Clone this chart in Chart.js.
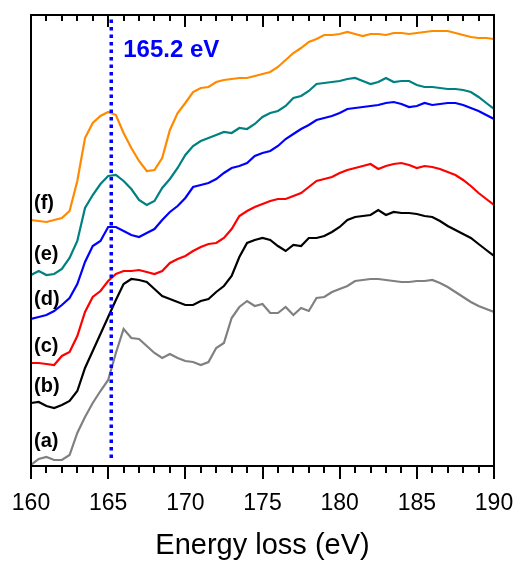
<!DOCTYPE html>
<html>
<head>
<meta charset="utf-8">
<script src="https://cdn.jsdelivr.net/npm/chart.js@4.4.1/dist/chart.umd.min.js"></script>
<style>
  html, body { margin: 0; background: #fff; }
</style>
</head>
<body>
<canvas id="chart" width="518" height="568"></canvas>
<script>
// energy loss grid (eV)
const energy = [160, 160.5, 161, 161.5, 162, 162.5, 163, 163.5, 164, 164.5,
  165, 165.5, 166, 166.5, 167, 167.5, 168, 168.5, 169, 169.5,
  170, 170.5, 171, 171.5, 172, 172.5, 173, 173.5, 174, 174.5,
  175, 175.5, 176, 176.5, 177, 177.5, 178, 178.5, 179, 179.5,
  180, 180.5, 181, 181.5, 182, 182.5, 183, 183.5, 184, 184.5,
  185, 185.5, 186, 186.5, 187, 187.5, 188, 188.5, 189, 189.5, 190]

// stacked spectra, arbitrary intensity units (offset already included)
const specA = [1, 7, 9, 6, 6, 11, 33, 49, 63, 75,
  86, 113, 137, 128, 127, 120, 113, 108, 112, 108,
  105, 104, 101, 104, 118, 123, 148, 159, 165, 160,
  162, 153, 153, 159, 151, 158, 155, 168, 169, 174,
  177, 180, 185, 186, 187, 187, 186, 185, 184, 184,
  185, 185, 186, 183, 179, 174, 169, 164, 160, 157, 154]
const specB = [63, 64, 60, 58, 61, 65, 75, 98, 115, 132,
  149, 166, 182, 187, 186, 184, 177, 170, 167, 164,
  161, 161, 165, 167, 174, 180, 190, 209, 223, 226,
  228, 226, 220, 215, 221, 220, 228, 228, 230, 234,
  239, 246, 249, 250, 251, 256, 251, 254, 253, 253,
  252, 250, 249, 245, 240, 236, 232, 228, 222, 216, 210]
const specC = [103, 103, 102, 101, 110, 114, 130, 154, 169, 175,
  185, 192, 195, 195, 196, 194, 192, 195, 203, 207,
  210, 215, 219, 222, 223, 228, 237, 250, 255, 259,
  262, 265, 267, 267, 270, 273, 279, 285, 287, 289,
  293, 296, 298, 300, 302, 297, 300, 302, 303, 301,
  298, 300, 299, 297, 294, 291, 286, 280, 273, 267, 261]
const specD = [147, 149, 151, 155, 161, 168, 182, 204, 220, 225,
  239, 239, 235, 231, 229, 233, 237, 246, 254, 260,
  268, 279, 281, 283, 287, 293, 298, 300, 303, 310,
  313, 315, 320, 327, 332, 337, 341, 346, 348, 350,
  353, 357, 358, 359, 360, 361, 363, 364, 362, 359,
  360, 363, 361, 362, 363, 363, 361, 358, 355, 351, 347]
const specE = [191, 195, 191, 192, 197, 208, 225, 258, 271, 282,
  290, 291, 285, 277, 266, 261, 265, 278, 287, 298,
  311, 320, 325, 328, 331, 334, 333, 338, 337, 342,
  349, 353, 355, 360, 368, 370, 375, 382, 383, 384,
  385, 387, 388, 385, 382, 384, 388, 384, 385, 385,
  381, 379, 379, 378, 377, 377, 376, 374, 369, 363, 357]
const specF = [246, 245, 244, 246, 248, 255, 285, 328, 343, 350,
  354, 351, 333, 318, 305, 295, 296, 308, 336, 353,
  363, 374, 378, 379, 384, 386, 387, 388, 388, 390,
  392, 394, 399, 406, 413, 418, 424, 427, 431, 431,
  432, 434, 432, 430, 432, 432, 431, 433, 433, 432,
  433, 434, 435, 435, 435, 433, 431, 429, 428, 428, 427]

const curveLabels = ['(a)', '(b)', '(c)', '(d)', '(e)', '(f)']
const labelLevels = [25, 80, 120, 167, 212, 263]
const curveColors = ['#808080', '#000000', '#ff0000', '#0000ff', '#008080', '#ff8a00']
const refEnergy = 165.2
const refText = '165.2 eV'

const series = [specA, specB, specC, specD, specE, specF]
const toPoints = s => s.map((v, i) => ({x: energy[i], y: v}))

Chart.defaults.font.family = "'Liberation Sans', Arial, sans-serif"
Chart.defaults.color = '#000'

const frame = {
  id: 'frame',
  afterDatasetsDraw(chart) {
    const {ctx, chartArea: a, scales: {x, y}} = chart
    ctx.save()
    ctx.strokeStyle = '#000'
    ctx.lineWidth = 2
    ctx.strokeRect(a.left, a.top, a.right - a.left, a.bottom - a.top)
    // major and minor ticks: outward on bottom, inward on top
    for (let v = 160; v <= 190; v++) {
      const px = Math.round(x.getPixelForValue(v))
      const len = v % 5 === 0 ? 13 : 7
      ctx.beginPath()
      ctx.moveTo(px, a.bottom)
      ctx.lineTo(px, a.bottom + len)
      ctx.moveTo(px, a.top)
      ctx.lineTo(px, a.top + len - 1)
      ctx.stroke()
    }
    ctx.fillStyle = '#000'
    ctx.font = "bold 20px 'Liberation Sans', Arial, sans-serif"
    ctx.textBaseline = 'middle'
    ctx.textAlign = 'left'
    curveLabels.forEach((t, i) => {
      ctx.fillText(t, x.getPixelForValue(160) + 3, y.getPixelForValue(labelLevels[i]))
    })
    ctx.fillStyle = '#0000ff'
    ctx.font = "bold 24px 'Liberation Sans', Arial, sans-serif"
    ctx.textBaseline = 'alphabetic'
    ctx.fillText(refText, x.getPixelForValue(refEnergy) + 12, y.getPixelForValue(409))
    ctx.restore()
  }
}

const datasets = [{
  data: [{x: refEnergy, y: 8}, {x: refEnergy, y: 447}],
  borderColor: '#0000ff',
  borderWidth: 3.5,
  borderDash: [3.5, 4]
}].concat(series.map((s, i) => ({
  data: toPoints(s),
  borderColor: curveColors[i],
  borderWidth: 2.2
})))

new Chart(document.getElementById('chart'), {
  type: 'line',
  data: {datasets: datasets},
  plugins: [frame],
  options: {
    responsive: false,
    animation: false,
    events: [],
    layout: {padding: {left: 31, right: 24, top: 15, bottom: 0}},
    elements: {point: {radius: 0}, line: {tension: 0, fill: false}},
    plugins: {legend: {display: false}, tooltip: {enabled: false}},
    scales: {
      x: {
        type: 'linear',
        min: 160,
        max: 190,
        grid: {display: false, drawTicks: false},
        border: {display: false},
        ticks: {stepSize: 5, font: {size: 23}, color: '#000', padding: 24, maxRotation: 0},
        title: {display: true, text: 'Energy loss (eV)', font: {size: 29}, color: '#000',
          padding: {top: 0, bottom: 5}},
        afterFit: s => {
          s.height = 102
          s.paddingLeft = 0
          s.paddingRight = 0
        }
      },
      y: {
        display: false,
        min: 0,
        max: 451
      }
    }
  }
})
</script>
</body>
</html>
